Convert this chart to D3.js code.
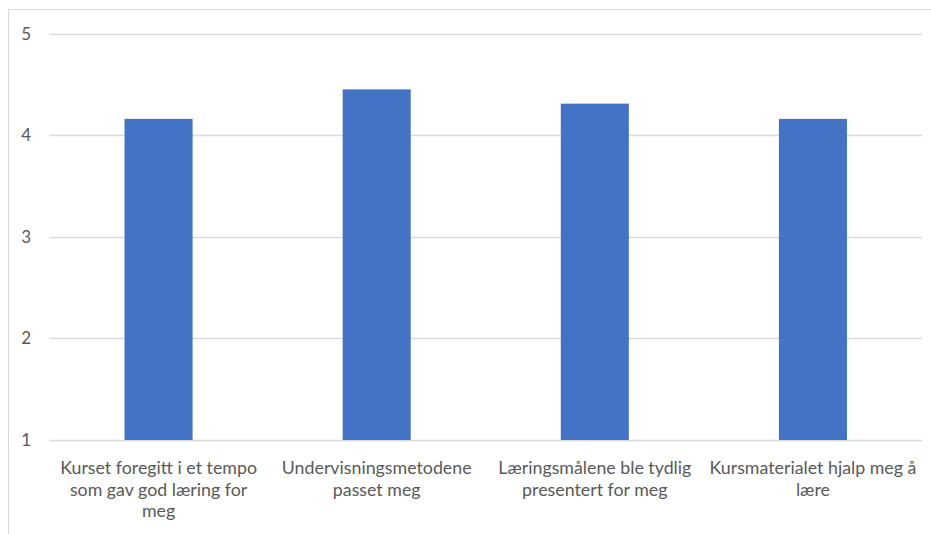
<!DOCTYPE html>
<html>
<head>
<meta charset="utf-8">
<script src="https://cdn.jsdelivr.net/npm/d3@7"></script>
<style>
  html, body { margin: 0; padding: 0; background: #ffffff; }
  svg { display: block; }
  text { font-family: Lato, "Open Sans", sans-serif; fill: #595959; }
</style>
</head>
<body>
<svg id="chart" width="931" height="534"></svg>
<script>
// Course evaluation: average score per statement (scale 1–5)
const categories = [
  "Kurset foregitt i et tempo som gav god læring for meg",
  "Undervisningsmetodene passet meg",
  "Læringsmålene ble tydlig presentert for meg",
  "Kursmaterialet hjalp meg å lære"
];
// Category labels split into the lines they are shown on
const categoryLines = [
  ["Kurset foregitt i et tempo", "som gav god læring for", "meg"],
  ["Undervisningsmetodene", "passet meg"],
  ["Læringsmålene ble tydlig", "presentert for meg"],
  ["Kursmaterialet hjalp meg å", "lære"]
];
const values = [4.16, 4.45, 4.31, 4.16];
const yTicks = [1, 2, 3, 4, 5];

const svg = d3.select("#chart");
const W = 931, H = 534;
const plot = { left: 49.5, right: 922, top: 33.5, bottom: 440 };

// chart frame (only top and left edges fall inside the page)
svg.append("rect")
  .attr("x", 8.5).attr("y", 9.5)
  .attr("width", W + 20).attr("height", H + 20)
  .attr("fill", "#ffffff")
  .attr("stroke", "#d9d9d9")
  .attr("stroke-width", 1);

const x = d3.scaleBand()
  .domain(categories)
  .range([plot.left, plot.right])
  .paddingInner(0.688)
  .paddingOuter(0.344);

const y = d3.scaleLinear()
  .domain([1, 5])
  .range([plot.bottom, plot.top]);

// horizontal gridlines
svg.append("g")
  .selectAll("line")
  .data(yTicks)
  .join("line")
  .attr("x1", plot.left)
  .attr("x2", plot.right)
  .attr("y1", d => Math.round(y(d)) + 0.5)
  .attr("y2", d => Math.round(y(d)) + 0.5)
  .attr("stroke", "#d9d9d9")
  .attr("stroke-width", 1.3);

// y tick labels
svg.append("g")
  .selectAll("text")
  .data(yTicks)
  .join("text")
  .attr("x", 31)
  .attr("y", d => y(d))
  .attr("dy", "0.36em")
  .attr("text-anchor", "end")
  .attr("font-size", 17)
  .text(d => d);

// bars
svg.append("g")
  .selectAll("rect")
  .data(values)
  .join("rect")
  .attr("x", (d, i) => x(categories[i]))
  .attr("width", x.bandwidth())
  .attr("y", d => y(d))
  .attr("height", d => y(1) - y(d))
  .attr("fill", "#4472c4");

// category labels
const labels = svg.append("g")
  .selectAll("text")
  .data(categoryLines)
  .join("text")
  .attr("text-anchor", "middle")
  .attr("font-size", 17.8)
  .attr("x", (d, i) => x(categories[i]) + x.bandwidth() / 2)
  .attr("y", 474);

labels.selectAll("tspan")
  .data(d => d)
  .join("tspan")
  .attr("x", function () { return this.parentNode.getAttribute("x"); })
  .attr("dy", (d, j) => j === 0 ? 0 : 21.5)
  .text(d => d);
</script>
</body>
</html>
